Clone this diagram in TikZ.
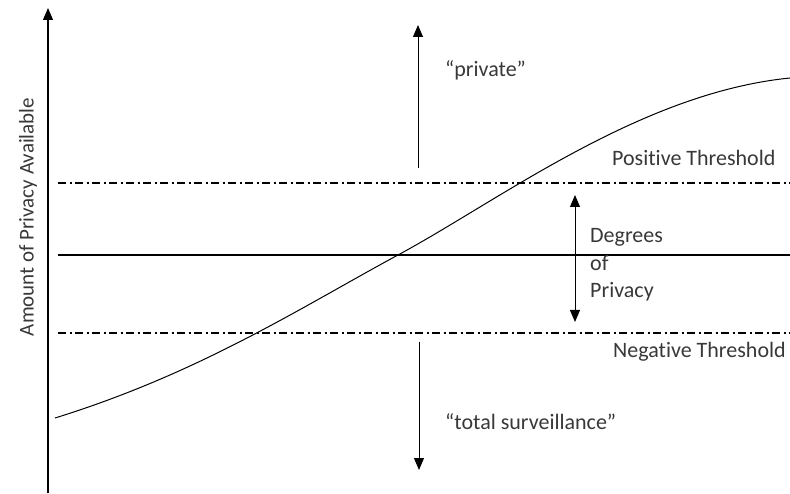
\documentclass[tikz,border=0pt]{standalone}
\usepackage{fontspec}
\setmainfont{Carlito}[Ligatures={NoCommon}]
\usetikzlibrary{arrows.meta}
\definecolor{txt}{gray}{0.22}
\tikzset{
  lbl/.style={text=txt,font=\fontsize{22}{26}\selectfont,inner sep=0pt},
  thr/.style={line width=1.1pt,dash pattern=on 8pt off 3.5pt on 2pt off 3.5pt},
  arr/.style={line width=1pt,-{Triangle[length=12pt,width=10pt]}},
  darr/.style={line width=1pt,{Triangle[length=12pt,width=10pt]}-{Triangle[length=12pt,width=10pt]}}
}
\begin{document}
\begin{tikzpicture}[x=1pt,y=1pt]
\useasboundingbox (0,0) rectangle (790,493);
% axis
\coordinate (ax0) at (48,0);
\coordinate (ax1) at (48,485);
\draw[arr,line width=1.2pt] (ax0) -- (ax1);
\node[lbl,rotate=90,font=\fontsize{21}{25}\selectfont] (ylab) at (28,276) {Amount of Privacy Available};
% thresholds
\coordinate (p0) at (58,310); \coordinate (p1) at (790,310);
\coordinate (m0) at (58,238); \coordinate (m1) at (790,238);
\coordinate (n0) at (58,160); \coordinate (n1) at (790,160);
\draw[thr] (p0) -- (p1);
\draw[line width=1.8pt] (m0) -- (m1);
\draw[thr] (n0) -- (n1);
% curve
\coordinate (c0) at (55,75);
\coordinate (cm) at (398,238);
\coordinate (c1) at (790,415);
\draw[line width=1pt] (c0) .. controls (200,120) and (300,185) .. (cm)
  .. controls (500,293) and (640,400) .. (c1);
% labels
\node[lbl,anchor=west] (pos) at (612,335) {Positive Threshold};
\node[lbl,anchor=west] (neg) at (613,141) {Negative Threshold};
\node[lbl,anchor=west] (priv) at (445,423) {“private”};
\node[lbl,anchor=west] (surv) at (445,71) {“total surveillance”};
\node[lbl,anchor=west,align=left,font=\fontsize{22}{27.5}\selectfont] (deg) at (590,228) {Degrees\\of\\Privacy};
% arrows
\coordinate (u0) at (418,325); \coordinate (u1) at (418,468);
\draw[arr] (u0) -- (u1);
\coordinate (d0) at (419,151); \coordinate (d1) at (419,23);
\draw[arr] (d0) -- (d1);
\coordinate (g0) at (575,298); \coordinate (g1) at (575,171);
\draw[darr] (g0) -- (g1);
\end{tikzpicture}
\end{document}
